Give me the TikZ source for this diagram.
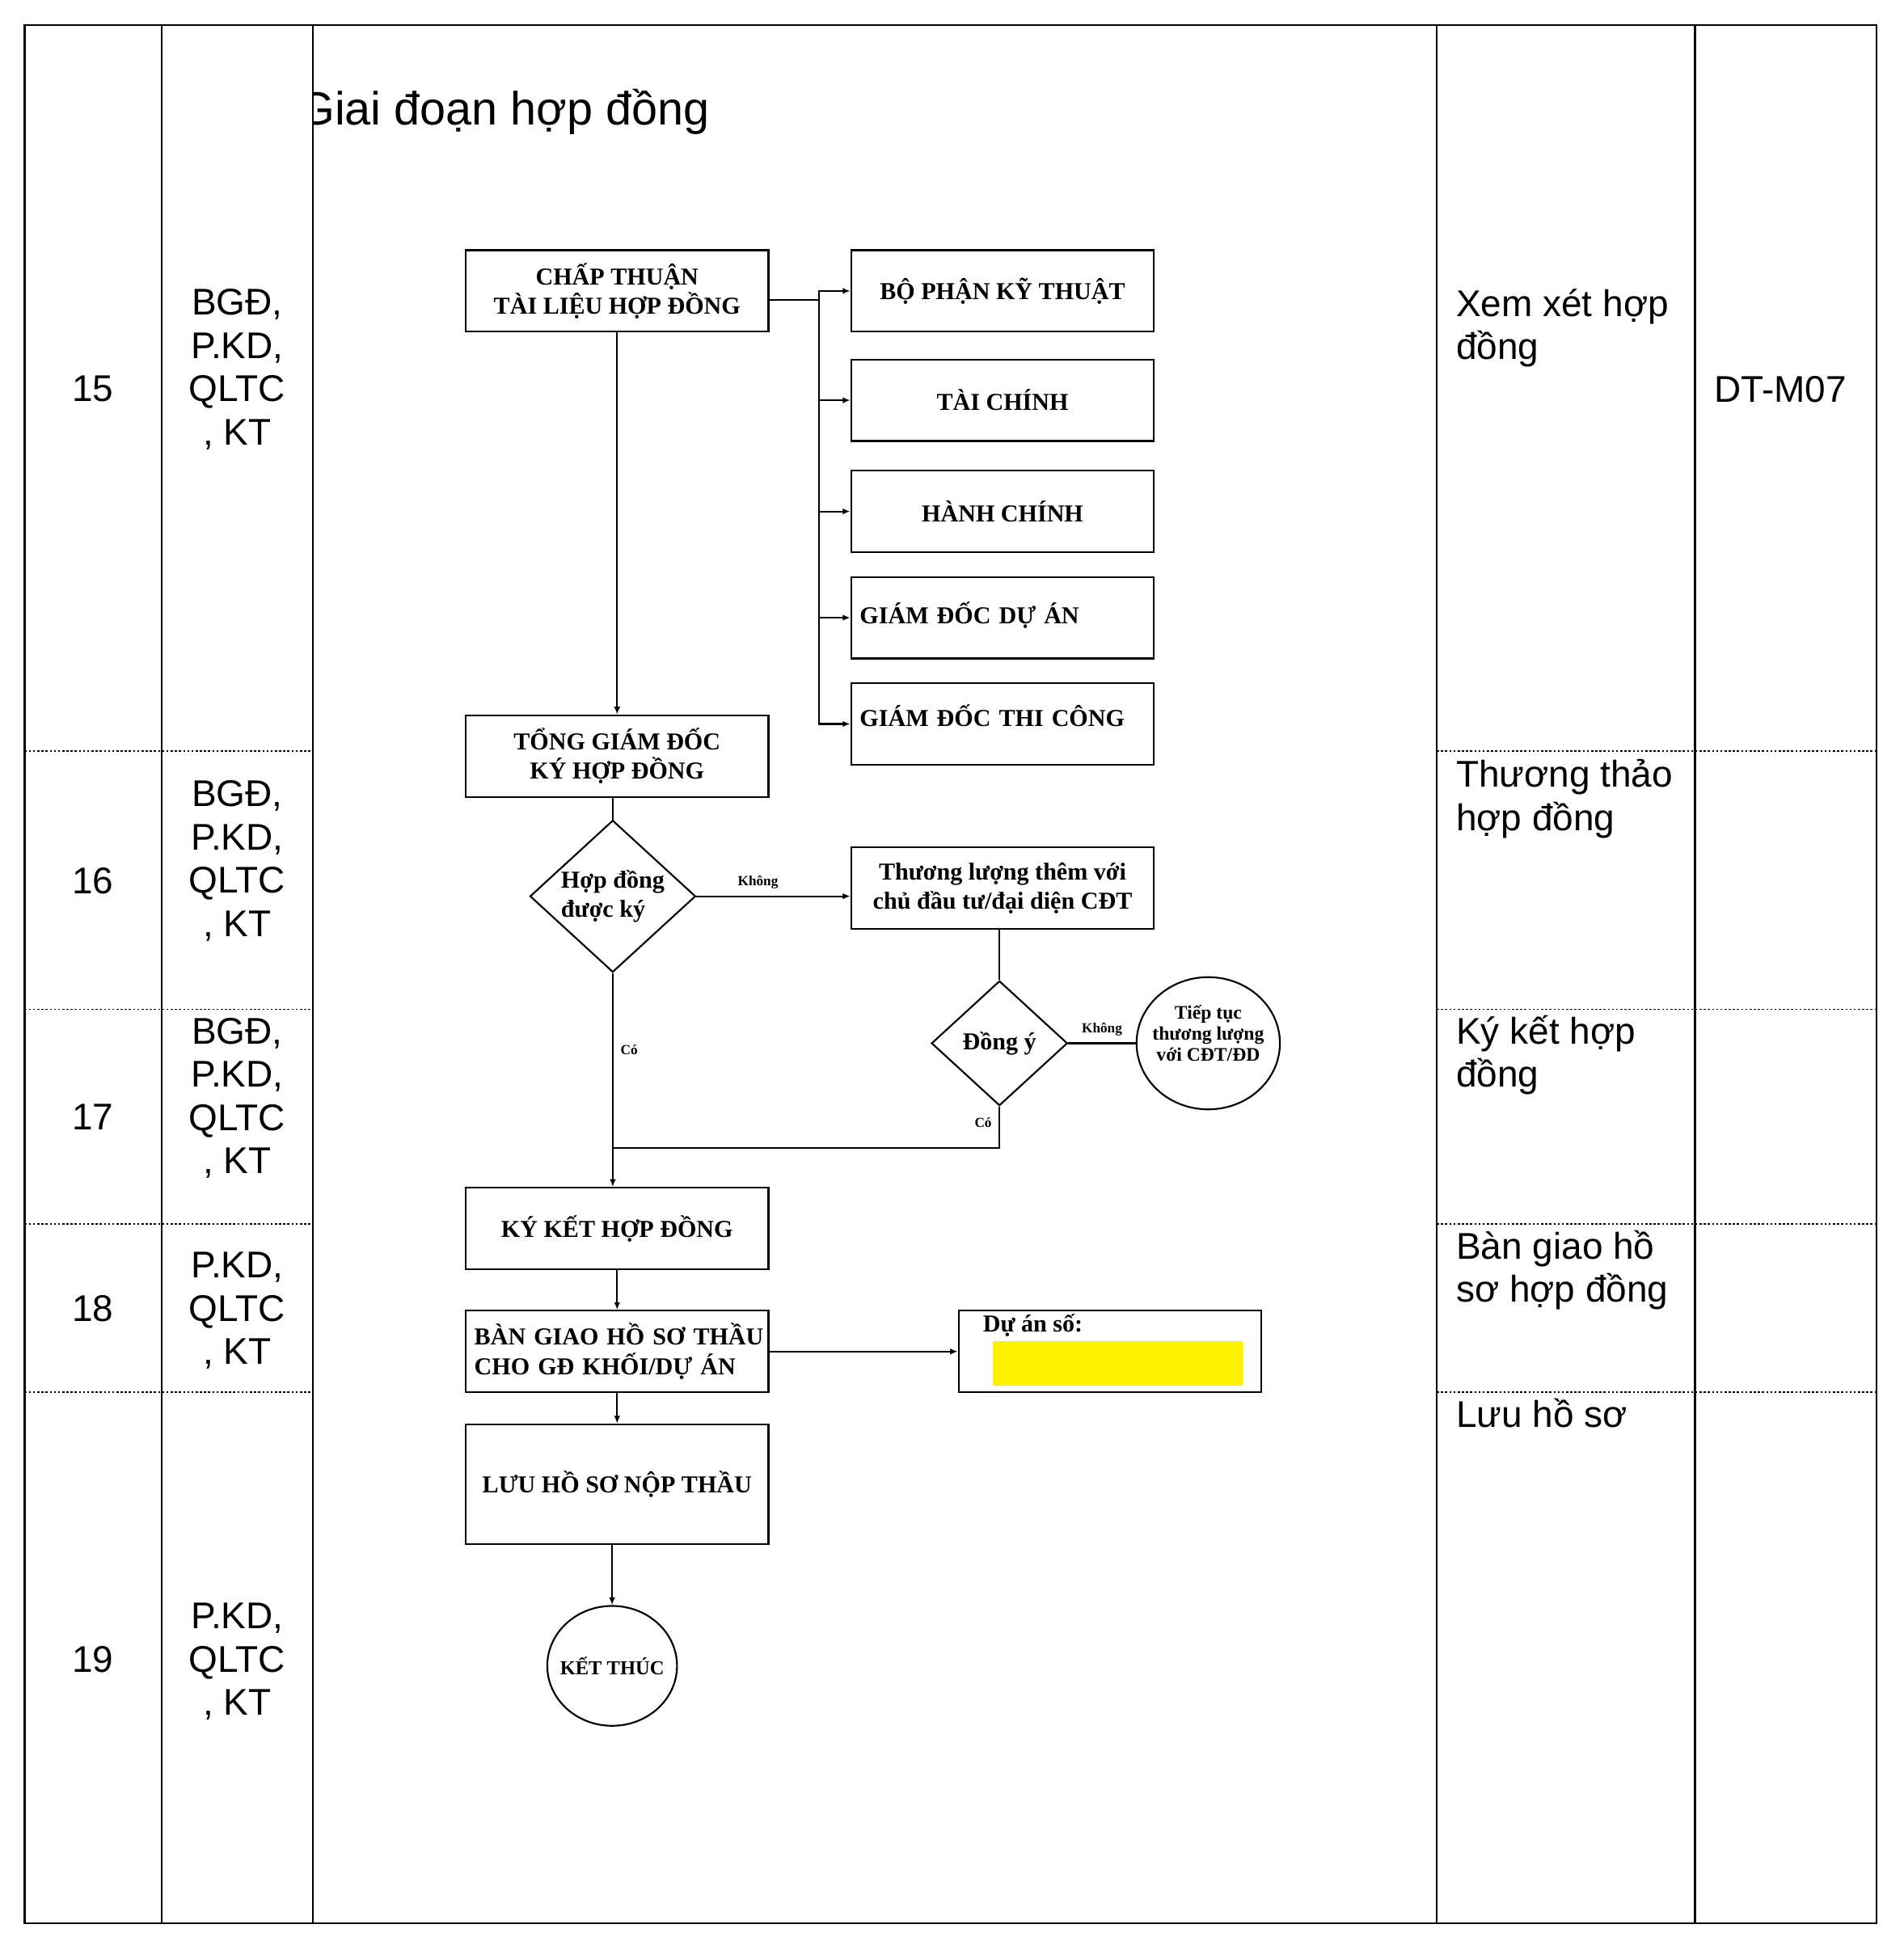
\documentclass[tikz,border=0pt]{standalone}
\usepackage{fontspec}
\setmainfont{Liberation Sans}
\newfontfamily\flowfont{Liberation Serif}
\usetikzlibrary{shapes.geometric,arrows.meta}

\begin{document}
\begin{tikzpicture}[x = 0.0125cm, y = -0.0125cm, line width = 0.5pt,
	cell/.style = {font = \fontsize{10.7pt}{12.45pt}\selectfont, align = center, inner sep = 0pt},
	note/.style = {cell, align = left, anchor = west},
	rowsep/.style = {line width = 0.4pt, dash pattern = on 0.6pt off 0.6pt},
	box/.style = {draw, rectangle, minimum width = 3.0625cm, minimum height = 0.825cm, inner sep = 0pt, align = center, font = \flowfont\bfseries\fontsize{7pt}{8.5pt}\selectfont},
	leftbox/.style = {box, align = left, text width = 2.8875cm, inner xsep = 0.0875cm},
	decision/.style = {draw, diamond, inner sep = -1pt, align = center, font = \flowfont\bfseries\fontsize{7pt}{8.5pt}\selectfont},
	term/.style = {draw, ellipse, inner ysep = 0pt, inner xsep = -0.07cm, align = center, font = \flowfont\bfseries\fontsize{5.5pt}{6pt}\selectfont},
	lbl/.style = {font = \flowfont\bfseries\fontsize{4pt}{5pt}\selectfont, inner sep = 2pt},
	arr/.style = {-{Latex[length = 2.2pt, width = 1.8pt]}}]
	\useasboundingbox (0,0) rectangle (1541,1568);
	
	\draw (20,20) rectangle (1519,1557);
	\draw (131,20) -- (131,1557) (253,20) -- (253,1557) (1163,20) -- (1163,1557) (1372,20) -- (1372,1557);
	\draw[rowsep] (20,608) -- (253,608) (1163,608) -- (1519,608)
	(20,817) -- (253,817) (1163,817) -- (1519,817)
	(20,991) -- (253,991) (1163,991) -- (1519,991)
	(20,1127) -- (253,1127) (1163,1127) -- (1519,1127);
	
	\node[cell] (n15) at (75,315) {15};
	\node[cell] (n16) at (75,713) {16};
	\node[cell] (n17) at (75,904) {17};
	\node[cell] (n18) at (75,1059) {18};
	\node[cell] (n19) at (75,1343) {19};
	\node[cell] (r15) at (192,299) {BGĐ,\\P.KD,\\QLTC\\, KT};
	\node[cell] (r16) at (192,697) {BGĐ,\\P.KD,\\QLTC\\, KT};
	\node[cell] (r17) at (192,889) {BGĐ,\\P.KD,\\QLTC\\, KT};
	\node[cell] (r18) at (192,1061) {P.KD,\\QLTC\\, KT};
	\node[cell] (r19) at (192,1345) {P.KD,\\QLTC\\, KT};
	\node[note] (d15) at (1178,265.5) {Xem xét hợp\\đồng};
	\node[note] (d16) at (1178,646.5) {Thương thảo\\hợp đồng};
	\node[note] (d17) at (1178,854) {Ký kết hợp\\đồng};
	\node[note] (d18) at (1178,1028) {Bàn giao hồ\\sơ hợp đồng};
	\node[note] (d19) at (1178,1144) {Lưu hồ sơ};
	\node[note] (form) at (1387,315) {DT-M07};
	
	\begin{scope}
		\clip (253,20) rectangle (1163,200);
		\node[anchor = base west, inner sep = 0pt, font = \fontsize{13.4pt}{16pt}\selectfont] (title) at (241,101) {Giai đoạn hợp đồng};
	\end{scope}
	
	\node[box] (chap) at (499.5,235.5) {CHẤP THUẬN\\TÀI LIỆU HỢP ĐỒNG};
	\node[box] (bpkt) at (811.5,235.5) {BỘ PHẬN KỸ THUẬT};
	\node[box] (taichinh) at (811.5,324) {TÀI CHÍNH};
	\node[box] (hanhchinh) at (811.5,414) {HÀNH CHÍNH};
	\node[leftbox, text depth = 0.1cm] (gdda) at (811.5,500) {GIÁM ĐỐC DỰ ÁN};
	\node[leftbox, text depth = 0.17cm] (gdtc) at (811.5,586) {GIÁM ĐỐC THI CÔNG};
	\node[box] (tgd) at (499.5,612) {TỔNG GIÁM ĐỐC\\KÝ HỢP ĐỒNG};
	\node[decision, aspect = 1.09, minimum width = 1.675cm, minimum height = 1.5375cm, align = left] (hdky) at (496,725.5) {Hợp đồng\\được ký};
	\node[box] (thuongluong) at (811.5,719) {Thương lượng thêm với\\chủ đầu tư/đại diện CĐT};
	\node[decision, minimum width = 1.375cm, minimum height = 1.2625cm] (dongy) at (809,844.5) {Đồng ý};
	\node[term, minimum width = 1.45cm, minimum height = 1.3375cm, text depth = 0.21cm] (tieptuc) at (978,844.5) {Tiếp tục\\thương lượng\\với CĐT/ĐD};
	\coordinate (merge) at (496,929);
	\node[box] (kyket) at (499.5,994.5) {KÝ KẾT HỢP ĐỒNG};
	\node[leftbox] (bangiao) at (499.5,1094) {\mbox{BÀN GIAO HỒ SƠ THẦU}\\\mbox{CHO GĐ KHỐI/DỰ ÁN}};
	\node[box] (duan) at (898.5,1094) {};
	\node[anchor = north west, inner sep = 0pt, font = \flowfont\bfseries\fontsize{7pt}{8.5pt}\selectfont] (duanso) at (795,1063) {Dự án số:};
	\node[anchor = north west, inner sep = 0pt, fill = yellow, minimum width = 2.525cm, minimum height = 0.45cm] (duanfill) at (803,1085) {};
	\node[box, minimum height = 1.2125cm] (luu) at (499.5,1201.5) {LƯU HỒ SƠ NỘP THẦU};
	\node[term, minimum width = 1.3125cm, minimum height = 1.2125cm, font = \flowfont\bfseries\fontsize{5.7pt}{7pt}\selectfont] (ketthuc) at (495.5,1348.5) {KẾT THÚC};
	
	\coordinate (bus) at (663,243);
	\draw (chap.east |- bus) -- (bus);
	\draw[arr] (bus) |- (bpkt.west);
	\draw[arr] (bus) |- (taichinh.west);
	\draw[arr] (bus) |- (hanhchinh.west);
	\draw[arr] (bus) |- (gdda.west);
	\draw[arr] (bus) |- (gdtc.west);
	\draw[arr] (chap) -- (tgd);
	\draw (hdky.north |- tgd.south) -- (hdky.north);
	\draw[arr] (hdky.east) -- node[lbl, above, pos = 0.4]{Không} (hdky.east -| thuongluong.west);
	\draw (dongy.north |- thuongluong.south) -- (dongy.north);
	\draw (dongy.east) -- node[lbl, above]{Không} (tieptuc.west);
	\draw (dongy.south) |- node[lbl, left, pos = 0.2]{Có} (merge);
	\draw[arr] (hdky.south) -- node[lbl, right, pos = 0.36]{Có} (hdky.south |- kyket.north);
	\draw[arr] (kyket) -- (bangiao);
	\draw[arr] (bangiao) -- (duan);
	\draw[arr] (bangiao) -- (luu);
	\draw[arr] (ketthuc.north |- luu.south) -- (ketthuc.north);
\end{tikzpicture}
\end{document}
